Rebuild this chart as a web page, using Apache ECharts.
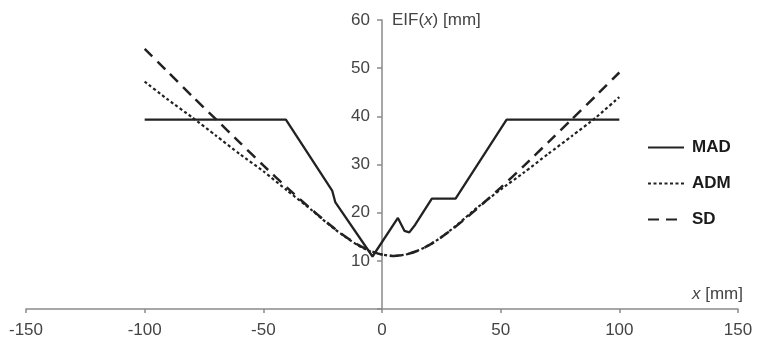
<!DOCTYPE html>
<html>
<head>
<meta charset="utf-8">
<script src="https://cdn.jsdelivr.net/npm/echarts@6/dist/echarts.min.js"></script>
<style>
  html, body { margin: 0; padding: 0; background: #fff; }
  #chart { width: 757px; height: 343px; }
</style>
</head>
<body>
<div id="chart"></div>
<script>
// x positions [mm] and EIF values [mm]
const madData = [
  [-100, 39.3], [-40.5, 39.3], [-21, 24.6], [-19.7, 22.2], [-4, 10.9],
  [6.7, 18.9], [9.5, 16.2], [11.5, 15.9], [14, 17.5], [21, 22.9],
  [31, 22.9], [52.5, 39.3], [100, 39.3]
];
const admData = [
  [-100, 47.2], [-90, 43.4], [-80, 39.8], [-70, 36.0], [-60, 32.2],
  [-50, 28.6], [-40, 24.6], [-30, 20.7], [-25, 18.6], [-20, 16.6],
  [-15, 14.8], [-10, 13.2], [-5, 12.0], [0, 11.3], [5, 11.0],
  [10, 11.3], [15, 12.1], [20, 13.3], [25, 14.9], [30, 16.8],
  [35, 18.9], [40, 21.0], [50, 24.8], [60, 28.4], [70, 32.2],
  [80, 35.9], [90, 39.7], [100, 44.0]
];
const sdData = [
  [-100, 54.0], [-90, 49.1], [-80, 44.2], [-70, 39.4], [-60, 34.6],
  [-50, 29.8], [-40, 25.2], [-30, 20.8], [-25, 18.7], [-20, 16.7],
  [-15, 14.9], [-10, 13.3], [-5, 12.1], [0, 11.3], [5, 11.0],
  [10, 11.3], [15, 12.1], [20, 13.3], [25, 14.9], [30, 16.7],
  [35, 18.7], [40, 20.8], [50, 25.2], [60, 29.8], [70, 34.6],
  [80, 39.4], [90, 44.2], [100, 49.1]
];
const seriesNames = ['MAD', 'ADM', 'SD'];

const chart = echarts.init(document.getElementById('chart'));
const font = 'Liberation Sans, Arial, sans-serif';
const axisGray = '#8a8a8a';
const textGray = '#444';
const lineColor = '#222';

// the y axis sits at x = 0, i.e. halfway across the plot
const gridLeft = 26, gridRight = 19;
const plotWidth = 757 - gridLeft - gridRight;

const option = {
  animation: false,
  textStyle: { fontFamily: font },
  grid: { left: gridLeft, right: gridRight, top: 20, bottom: 34 },
  legend: {
    orient: 'vertical',
    left: 642,
    top: 134,
    itemWidth: 36,
    itemHeight: 14,
    itemGap: 19,
    data: seriesNames,
    itemStyle: { color: 'rgba(0,0,0,0)', borderWidth: 0 },
    textStyle: { fontFamily: font, fontSize: 17, fontWeight: 'bold', color: '#1a1a1a', padding: [0, 0, 0, 3] }
  },
  xAxis: {
    type: 'value',
    min: -150,
    max: 150,
    interval: 50,
    splitLine: { show: false },
    axisLine: { lineStyle: { color: axisGray, width: 1.5 } },
    axisTick: { length: 4, lineStyle: { color: axisGray, width: 1.5 } },
    axisLabel: { color: textGray, fontSize: 17, margin: 13, fontFamily: font },
    name: '{i|x} [mm]',
    nameLocation: 'end',
    nameGap: 5,
    nameTextStyle: {
      align: 'right',
      verticalAlign: 'bottom',
      padding: [0, 0, 6, 0],
      color: textGray,
      fontSize: 17,
      fontFamily: font,
      rich: { i: { fontStyle: 'italic', fontSize: 17, color: textGray, fontFamily: font } }
    }
  },
  yAxis: {
    type: 'value',
    min: 0,
    max: 60,
    interval: 10,
    position: 'left',
    offset: -plotWidth / 2,
    splitLine: { show: false },
    axisLine: { onZero: false, lineStyle: { color: axisGray, width: 1.5 } },
    axisTick: { length: 5, lineStyle: { color: axisGray, width: 1.5 } },
    axisLabel: {
      color: textGray, fontSize: 17, margin: 12, fontFamily: font,
      formatter: v => (v === 0 ? '' : v)
    },
    name: 'EIF({i|x}) [mm]',
    nameLocation: 'end',
    nameGap: 0,
    nameTextStyle: {
      align: 'left',
      verticalAlign: 'middle',
      padding: [0, 0, 0, 10],
      color: textGray,
      fontSize: 17,
      fontFamily: font,
      rich: { i: { fontStyle: 'italic', fontSize: 17, color: textGray, fontFamily: font } }
    }
  },
  series: [
    {
      name: 'MAD', type: 'line', data: madData, symbol: 'none',
      lineStyle: { color: lineColor, width: 2.3, type: 'solid' },
      itemStyle: { color: lineColor }
    },
    {
      name: 'ADM', type: 'line', data: admData, symbol: 'none', smooth: 0.2,
      lineStyle: { color: lineColor, width: 2.2, type: [3, 2.5] },
      itemStyle: { color: lineColor }
    },
    {
      name: 'SD', type: 'line', data: sdData, symbol: 'none', smooth: 0.2,
      lineStyle: { color: lineColor, width: 2.5, type: [11, 7] },
      itemStyle: { color: lineColor }
    }
  ]
};

chart.setOption(option);
window.addEventListener('resize', () => chart.resize());
</script>
</body>
</html>
